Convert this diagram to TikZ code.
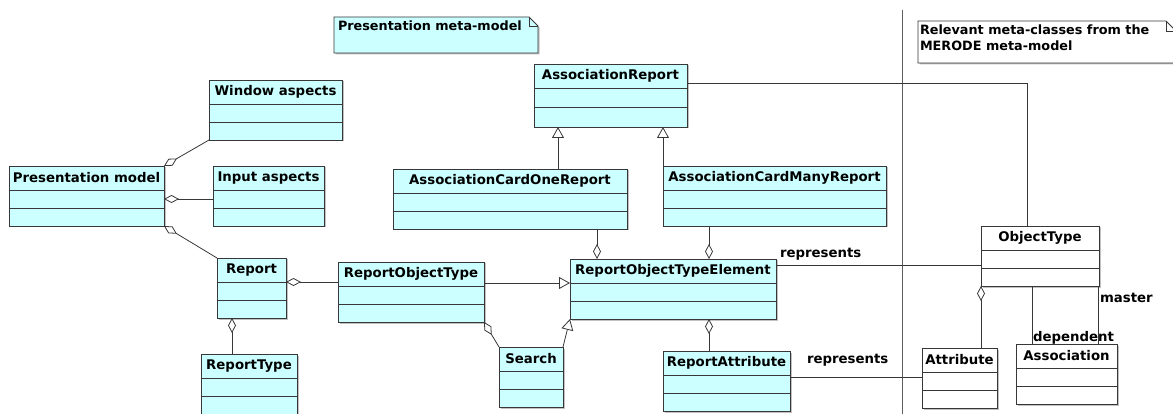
\documentclass[tikz,border=0pt]{standalone}
\usepackage{fontspec}
\setmainfont{DejaVu Sans}
\usepackage{tikz}
\usetikzlibrary{positioning}
\usetikzlibrary{arrows.meta,shadows,calc}
\definecolor{classfill}{RGB}{204,255,255}
\definecolor{umlline}{RGB}{55,55,55}
\newcommand{\classheadheight}{24pt}
\newcommand{\classslotheight}{18pt}

\begin{document}
\begin{tikzpicture}[x=1pt, y=-1pt, node distance=0pt, outer sep=0pt]
\tikzstyle{classhead}=[
    draw=umlline,
    line width=0.8pt,
    rectangle,
    inner sep=0pt,
    minimum height=\classheadheight,
    fill=classfill,
    font=\fontsize{13.3}{16}\selectfont\bfseries,
    drop shadow={shadow xshift=1.5pt, shadow yshift=-1.5pt, opacity=0.35, fill=black!70},
    anchor=north west]
\tikzstyle{classslot}=[
    draw=umlline,
    line width=0.8pt,
    rectangle,
    inner sep=0pt,
    minimum height=\classslotheight,
    fill=classfill,
    drop shadow={shadow xshift=1.5pt, shadow yshift=-1.5pt, opacity=0.35, fill=black!70},
    anchor=north west]
\tikzstyle{merodehead}=[classhead, fill=white]
\tikzstyle{merodeslot}=[classslot, fill=white]
\tikzstyle{aggr}=[draw=umlline, line width=0.8pt, {Diamond[open, length=15pt, width=8pt]}-]
\tikzstyle{gen}=[draw=umlline, line width=0.8pt, -{Triangle[open, length=11pt, width=12pt]}]
\tikzstyle{assoc}=[draw=umlline, line width=0.8pt]
\tikzstyle{rolelabel}=[inner sep=0pt, font=\fontsize{13.3}{16}\selectfont\bfseries]
\tikzstyle{notebox}=[draw=umlline, line width=0.8pt,
    drop shadow={shadow xshift=1.5pt, shadow yshift=-1.5pt, opacity=0.35, fill=black!70}]
\tikzstyle{notetext}=[inner sep=0pt, align=left, anchor=north west,
    font=\fontsize{12.8}{16}\selectfont\bfseries]

\useasboundingbox (0,0) rectangle (1173,414);

% notes
\draw[notebox, fill=classfill] (334,17) -- (529,17) -- (538,26) -- (538,53) -- (334,53) -- cycle;
\draw[umlline, line width=0.6pt] (529,17) -- (529,26) -- (538,26);
\node[notetext] (pnote) at (338,21) {Presentation meta-model};

\draw[notebox, fill=white] (918,21) -- (1166,21) -- (1176,31) -- (1176,63) -- (918,63) -- cycle;
\draw[umlline, line width=0.6pt] (1166,21) -- (1166,31) -- (1176,31);
\node[notetext] (mnote) at (920,25) {Relevant meta-classes from the\\MERODE meta-model};

% separator between the two meta-models
\coordinate (septop) at (902,10);
\coordinate (sepbot) at (902,414);
\draw[umlline!80, line width=0.8pt] (septop) -- (sepbot);

% presentation meta-model classes
\node[classhead, minimum width=155pt] (pmodel) at (9,166) {Presentation model};
\node[classslot, minimum width=155pt] (pmodel1) [below = of pmodel] {};
\node[classslot, minimum width=155pt] (pmodel2) [below = of pmodel1] {};

\node[classhead, minimum width=133pt] (window) at (209,80) {Window aspects};
\node[classslot, minimum width=133pt] (window1) [below = of window] {};
\node[classslot, minimum width=133pt] (window2) [below = of window1] {};

\node[classhead, minimum width=111pt] (input) at (213,166) {Input aspects};
\node[classslot, minimum width=111pt] (input1) [below = of input] {};
\node[classslot, minimum width=111pt] (input2) [below = of input1] {};

\node[classhead, minimum width=69pt] (report) at (217,258) {Report};
\node[classslot, minimum width=69pt] (report1) [below = of report] {};
\node[classslot, minimum width=69pt] (report2) [below = of report1] {};

\node[classhead, minimum width=96pt] (rtype) at (201,354) {ReportType};
\node[classslot, minimum width=96pt] (rtype1) [below = of rtype] {};
\node[classslot, minimum width=96pt] (rtype2) [below = of rtype1] {};

\node[classhead, minimum width=146pt] (rot) at (338,262) {ReportObjectType};
\node[classslot, minimum width=146pt] (rot1) [below = of rot] {};
\node[classslot, minimum width=146pt] (rot2) [below = of rot1] {};

\node[classhead, minimum width=64pt] (search) at (499,347) {Search};
\node[classslot, minimum width=64pt] (search1) [below = of search] {};
\node[classslot, minimum width=64pt] (search2) [below = of search1] {};

\node[classhead, minimum width=153pt] (ar) at (534,64) {AssociationReport};
\node[classslot, minimum width=153pt, minimum height=19pt] (ar1) [below = of ar] {};
\node[classslot, minimum width=153pt, minimum height=20pt] (ar2) [below = of ar1] {};

\node[classhead, minimum width=234pt] (acor) at (393,169) {AssociationCardOneReport};
\node[classslot, minimum width=234pt] (acor1) [below = of acor] {};
\node[classslot, minimum width=234pt] (acor2) [below = of acor1] {};

\node[classhead, minimum width=223pt] (acmr) at (663,166) {AssociationCardManyReport};
\node[classslot, minimum width=223pt] (acmr1) [below = of acmr] {};
\node[classslot, minimum width=223pt] (acmr2) [below = of acmr1] {};

\node[classhead, minimum width=206pt] (rote) at (570,259) {ReportObjectTypeElement};
\node[classslot, minimum width=206pt] (rote1) [below = of rote] {};
\node[classslot, minimum width=206pt] (rote2) [below = of rote1] {};

\node[classhead, minimum width=127pt] (ra) at (663,351) {ReportAttribute};
\node[classslot, minimum width=127pt] (ra1) [below = of ra] {};
\node[classslot, minimum width=127pt] (ra2) [below = of ra1] {};

% merode meta-classes
\node[merodehead, minimum width=118pt] (otype) at (981,226) {ObjectType};
\node[merodeslot, minimum width=118pt] (otype1) [below = of otype] {};
\node[merodeslot, minimum width=118pt] (otype2) [below = of otype1] {};

\node[merodehead, minimum width=75pt] (attr) at (922,348) {Attribute};
\node[merodeslot, minimum width=75pt] (attr1) [below = of attr] {};
\node[merodeslot, minimum width=75pt] (attr2) [below = of attr1] {};

\node[merodehead, minimum width=101pt] (assn) at (1016,344) {Association};
\node[merodeslot, minimum width=101pt] (assn1) [below = of assn] {};
\node[merodeslot, minimum width=101pt] (assn2) [below = of assn1] {};

% aggregations
\draw[aggr] (pmodel.north east) -- (window2.south west);
\draw[aggr] (pmodel1.east) -- (input1.west);
\draw[aggr] (pmodel2.south east) -- (report.north west);
\draw[aggr] ([xshift=15pt]report2.south west) -- ([xshift=15pt]report2.south west |- rtype.north);
\draw[aggr] (report.south east) -- (report.south east -| rot.west);
\draw[aggr] (rot2.south east) -- (search.north west);
\draw[aggr] ([xshift=27pt]rote.north west) -- ([xshift=27pt]rote.north west |- acor2.south);
\draw[aggr] ([xshift=139pt]rote.north west) -- ([xshift=139pt]rote.north west |- acmr2.south);
\draw[aggr] ([xshift=139pt]rote2.south west) -- ([xshift=139pt]rote2.south west |- ra.north);
\draw[aggr] (otype2.south west) -- (otype2.south west |- attr.north);

% generalisations
\draw[gen] ([xshift=165pt]acor.north west) -- ([xshift=165pt]acor.north west |- ar2.south);
\draw[gen] (acmr.north west) -- (acmr.north west |- ar2.south);
\draw[gen] (rote.south west -| rot.east) -- (rote.south west);
\draw[gen] (search.north east) -- (rote2.south west);

% associations
\draw[assoc] ([yshift=5pt]ar.south east) -| ([xshift=46pt]otype.north west);
\draw[assoc] ([yshift=6pt]rote.east) -- ([yshift=6pt]rote.east -| otype1.west)
    node[rolelabel, pos=0, anchor=south west, xshift=4pt, yshift=5pt] {represents};
\draw[assoc] ([yshift=-2pt]ra1.north east) -- ([yshift=-2pt]ra1.north east -| attr1.west)
    node[rolelabel, pos=0, anchor=south west, xshift=17pt, yshift=11pt] {represents};
\draw[assoc] ([xshift=51pt]otype2.south west) -- ([xshift=51pt]otype2.south west |- assn.north)
    node[rolelabel, pos=1, anchor=base west, xshift=1pt, yshift=3pt] {dependent};
\draw[assoc] ([xshift=-1pt]otype2.south east) -- ([xshift=-1pt]otype2.south east |- assn.north)
    node[rolelabel, pos=0.2, anchor=west, xshift=2pt] {master};

\end{tikzpicture}
\end{document}
